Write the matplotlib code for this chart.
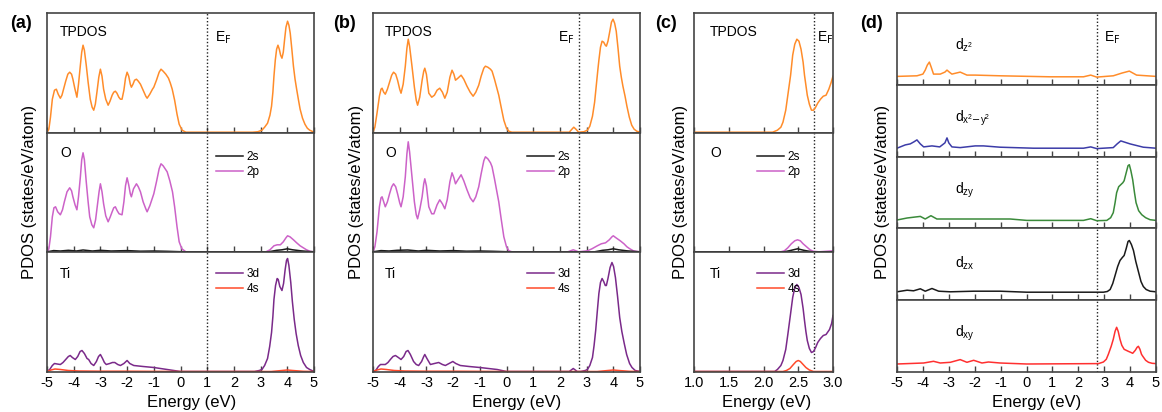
import matplotlib
matplotlib.use('Agg')
import matplotlib.pyplot as plt

plt.rcParams['font.family'] = ['Liberation Sans', 'DejaVu Sans']
plt.rcParams['mathtext.default'] = 'regular'
plt.rcParams['axes.unicode_minus'] = False

W, H = 1162, 412

# Fermi levels (eV)
ef_a = 1.0
ef_b = 2.73
ef_c = 2.73
ef_d = 2.73

# curves as (energy eV, PDOS in arbitrary units)
# ---------- panel (a) ----------
a_tot = [(-5.0, 0), (-4.93, 3), (-4.87, 15), (-4.8, 33), (-4.72, 42), (-4.65, 43), (-4.58, 38), (-4.5, 34),
         (-4.44, 37), (-4.38, 43), (-4.3, 51), (-4.22, 58), (-4.15, 60), (-4.08, 58), (-4.03, 53), (-3.96, 44),
         (-3.88, 35), (-3.82, 48), (-3.75, 67), (-3.7, 80), (-3.65, 87), (-3.6, 82), (-3.53, 67), (-3.46, 50),
         (-3.38, 33), (-3.31, 25), (-3.25, 22), (-3.19, 28), (-3.13, 40), (-3.06, 55), (-3.0, 63), (-2.94, 56),
         (-2.88, 43), (-2.8, 33), (-2.71, 27), (-2.64, 31), (-2.56, 37), (-2.5, 40), (-2.44, 41), (-2.38, 39),
         (-2.31, 35), (-2.25, 33), (-2.19, 33), (-2.12, 42), (-2.06, 54), (-2.0, 60), (-1.94, 56), (-1.88, 48),
         (-1.84, 45), (-1.78, 48), (-1.72, 52), (-1.65, 53), (-1.58, 51), (-1.5, 48), (-1.4, 42), (-1.3, 36),
         (-1.25, 34), (-1.15, 38), (-1.05, 43), (-1.0, 45), (-0.9, 52), (-0.8, 60), (-0.73, 63), (-0.65, 61),
         (-0.55, 58), (-0.45, 54), (-0.38, 49), (-0.31, 43), (-0.22, 32), (-0.13, 18), (-0.05, 8), (0.06, 2),
         (0.2, 0), (2.7, 0), (2.9, 0.5), (3.05, 2), (3.15, 5), (3.26, 9), (3.35, 17), (3.41, 26), (3.46, 40),
         (3.5, 56), (3.55, 72), (3.6, 83), (3.65, 87), (3.7, 83), (3.75, 77), (3.8, 74), (3.85, 80), (3.9, 93),
         (3.95, 105), (4.01, 111), (4.06, 107), (4.11, 99), (4.17, 83), (4.23, 66), (4.29, 53), (4.35, 43),
         (4.42, 32), (4.48, 23), (4.57, 14), (4.66, 8), (4.75, 4), (4.84, 2), (5.0, 0)]
a_o2p = [(-5.0, 0), (-4.93, 3), (-4.87, 15), (-4.8, 35), (-4.74, 44), (-4.68, 45), (-4.6, 40), (-4.5, 37),
         (-4.42, 42), (-4.35, 50), (-4.25, 60), (-4.15, 64), (-4.08, 61), (-4.03, 55), (-3.95, 47), (-3.88, 42),
         (-3.82, 55), (-3.75, 75), (-3.7, 92), (-3.65, 99), (-3.6, 92), (-3.53, 70), (-3.46, 50), (-3.4, 35),
         (-3.32, 27), (-3.25, 24), (-3.18, 32), (-3.12, 45), (-3.05, 60), (-3.0, 68), (-2.94, 60), (-2.88, 48),
         (-2.8, 36), (-2.71, 30), (-2.63, 35), (-2.56, 40), (-2.5, 44), (-2.44, 45), (-2.37, 41), (-2.3, 38),
         (-2.19, 37), (-2.12, 50), (-2.06, 66), (-2.0, 74), (-1.94, 67), (-1.88, 58), (-1.84, 55), (-1.76, 63),
         (-1.65, 68), (-1.58, 65), (-1.5, 60), (-1.4, 50), (-1.3, 43), (-1.25, 40), (-1.15, 46), (-1.05, 54),
         (-1.0, 58), (-0.9, 70), (-0.8, 83), (-0.73, 88), (-0.65, 86), (-0.5, 80), (-0.4, 71), (-0.3, 60),
         (-0.22, 45), (-0.13, 25), (-0.05, 10), (0.05, 3), (0.2, 0), (3.2, 0), (3.35, 2), (3.5, 6), (3.62, 7),
         (3.74, 7), (3.85, 10), (3.95, 14), (4.01, 16), (4.1, 15), (4.23, 12), (4.35, 9), (4.48, 6), (4.6, 4),
         (4.72, 2), (4.85, 0.5), (5.0, 0)]
a_o2s = [(-5.0, 0), (-4.75, 1.2), (-4.5, 0.8), (-4.2, 1.5), (-3.9, 0.8), (-3.65, 1.8), (-3.3, 0.8), (-3.0, 1.5),
         (-2.6, 0.8), (-2.0, 1.2), (-1.5, 0.6), (-1.0, 0.8), (-0.5, 0.5), (0.1, 0), (3.3, 0), (3.6, 1.5),
         (3.8, 2), (4.0, 3), (4.2, 2), (4.5, 1), (4.8, 0.3), (5.0, 0)]
a_ti3d = [(-5.0, 0), (-4.9, 2), (-4.8, 6), (-4.72, 8), (-4.62, 7.5), (-4.5, 7), (-4.4, 9), (-4.3, 12), (-4.2, 15),
          (-4.13, 16), (-4.05, 14), (-3.94, 12), (-3.85, 15), (-3.76, 20), (-3.69, 21), (-3.6, 18), (-3.5, 13),
          (-3.44, 12), (-3.35, 8), (-3.25, 6), (-3.15, 10), (-3.07, 15), (-3.0, 17), (-2.92, 13), (-2.85, 9),
          (-2.78, 7), (-2.65, 8), (-2.55, 9), (-2.46, 9), (-2.35, 7), (-2.25, 6), (-2.12, 8), (-2.0, 11),
          (-1.9, 8), (-1.75, 6), (-1.4, 5), (-1.0, 4), (-0.5, 2), (0.0, 0), (2.77, 0), (2.95, 1), (3.05, 2),
          (3.15, 6), (3.26, 13), (3.34, 25), (3.41, 39), (3.46, 55), (3.5, 72), (3.56, 86), (3.62, 93),
          (3.66, 92), (3.72, 85), (3.8, 81), (3.86, 88), (3.92, 102), (3.97, 111), (4.01, 113), (4.06, 106),
          (4.13, 89), (4.19, 70), (4.26, 52), (4.33, 38), (4.41, 26), (4.5, 16), (4.6, 9), (4.72, 4), (4.84, 2),
          (5.0, 0)]
a_ti4s = [(-5.0, 0), (-4.85, 1.5), (-4.7, 2.5), (-4.5, 2), (-4.2, 1), (-3.8, 0.5), (-3.0, 0.3), (-2.0, 0.3),
          (0.0, 0), (3.4, 0), (3.8, 1), (4.0, 1.5), (4.2, 1), (4.6, 0.2), (5.0, 0)]

# ---------- panel (b) ----------
b_tot = [(-5.0, 0), (-4.93, 5), (-4.85, 19), (-4.76, 36), (-4.7, 43), (-4.66, 44), (-4.6, 40), (-4.54, 38),
         (-4.46, 43), (-4.38, 50), (-4.3, 57), (-4.23, 60), (-4.15, 58), (-4.08, 52), (-4.0, 43), (-3.95, 39),
         (-3.87, 48), (-3.79, 66), (-3.73, 84), (-3.68, 93), (-3.63, 86), (-3.54, 66), (-3.45, 45), (-3.38, 32),
         (-3.33, 27), (-3.25, 35), (-3.16, 52), (-3.1, 61), (-3.06, 64), (-3.0, 58), (-2.91, 39), (-2.8, 35),
         (-2.7, 37), (-2.6, 42), (-2.5, 44), (-2.4, 40), (-2.31, 34), (-2.22, 40), (-2.12, 55), (-2.04, 62),
         (-1.97, 58), (-1.91, 52), (-1.82, 54), (-1.7, 57), (-1.6, 53), (-1.48, 46), (-1.36, 40), (-1.25, 36),
         (-1.15, 40), (-1.04, 47), (-0.95, 56), (-0.85, 64), (-0.79, 66), (-0.7, 65), (-0.6, 63), (-0.54, 61),
         (-0.45, 53), (-0.36, 44), (-0.29, 37), (-0.2, 25), (-0.1, 12), (0.0, 4), (0.09, 1), (0.2, 0), (2.35, 0),
         (2.45, 3), (2.52, 5), (2.6, 3), (2.7, 0), (2.9, 0.5), (3.03, 2), (3.12, 6), (3.22, 16), (3.3, 30),
         (3.36, 46), (3.42, 62), (3.46, 72), (3.52, 85), (3.58, 91), (3.64, 90), (3.7, 87), (3.74, 86),
         (3.8, 91), (3.87, 101), (3.93, 110), (3.99, 113), (4.05, 109), (4.11, 101), (4.18, 83), (4.24, 66),
         (4.3, 55), (4.36, 46), (4.44, 36), (4.51, 26), (4.6, 15), (4.69, 7), (4.78, 3), (4.88, 1), (5.0, 0)]
b_o2p = [(-5.0, 0), (-4.93, 5), (-4.85, 20), (-4.76, 45), (-4.7, 54), (-4.66, 55), (-4.6, 50), (-4.54, 45),
         (-4.46, 50), (-4.38, 58), (-4.3, 65), (-4.23, 68), (-4.15, 65), (-4.08, 58), (-4.0, 49), (-3.95, 45),
         (-3.87, 55), (-3.79, 75), (-3.73, 98), (-3.68, 110), (-3.63, 100), (-3.54, 75), (-3.45, 50), (-3.38, 37),
         (-3.33, 33), (-3.25, 42), (-3.16, 55), (-3.1, 68), (-3.06, 73), (-3.0, 66), (-2.91, 45), (-2.8, 38),
         (-2.72, 38), (-2.6, 47), (-2.5, 52), (-2.4, 48), (-2.31, 43), (-2.22, 52), (-2.12, 70), (-2.04, 79),
         (-1.97, 74), (-1.91, 68), (-1.82, 72), (-1.7, 77), (-1.6, 71), (-1.48, 62), (-1.36, 54), (-1.25, 50),
         (-1.15, 55), (-1.04, 65), (-0.95, 78), (-0.85, 91), (-0.79, 95), (-0.7, 93), (-0.6, 89), (-0.54, 85),
         (-0.45, 73), (-0.36, 60), (-0.29, 50), (-0.2, 33), (-0.1, 15), (0.0, 5), (0.09, 1), (0.2, 0), (2.3, 0),
         (2.5, 2), (2.7, 0), (3.03, 1), (3.2, 3), (3.4, 6), (3.55, 8), (3.71, 9), (3.85, 12), (3.95, 15),
         (4.0, 16), (4.1, 14), (4.26, 11), (4.4, 8), (4.51, 5), (4.62, 3), (4.75, 1), (4.9, 0.3), (5.0, 0)]
b_o2s = [(-5.0, 0), (-4.7, 1.2), (-4.4, 0.8), (-4.1, 1.5), (-3.7, 1.8), (-3.3, 0.8), (-3.0, 1.5), (-2.5, 0.8),
         (-2.0, 1.2), (-1.5, 0.6), (-1.0, 0.8), (-0.5, 0.5), (0.1, 0), (3.3, 0), (3.6, 1.5), (3.8, 2), (4.0, 3),
         (4.2, 2), (4.5, 1), (4.8, 0.3), (5.0, 0)]
b_ti3d = [(-5.0, 0), (-4.9, 1), (-4.8, 5), (-4.72, 7), (-4.62, 7), (-4.54, 7), (-4.44, 9), (-4.35, 12),
          (-4.25, 15), (-4.16, 16), (-4.05, 14), (-3.95, 12), (-3.85, 15), (-3.76, 20), (-3.69, 21), (-3.6, 17),
          (-3.48, 10), (-3.38, 7), (-3.29, 6), (-3.18, 10), (-3.1, 15), (-3.06, 17), (-2.98, 13), (-2.85, 7),
          (-2.7, 8), (-2.54, 9), (-2.4, 7), (-2.29, 6), (-2.15, 8), (-2.01, 10), (-1.9, 8), (-1.73, 6),
          (-1.4, 5), (-1.0, 4), (-0.35, 2), (0.0, 0), (2.35, 0), (2.5, 3), (2.65, 0), (2.78, 0), (2.95, 1),
          (3.03, 2), (3.12, 6), (3.22, 14), (3.28, 26), (3.34, 41), (3.4, 60), (3.46, 78), (3.52, 89),
          (3.58, 93), (3.64, 90), (3.7, 86), (3.74, 86), (3.8, 93), (3.88, 104), (3.95, 109), (4.01, 105),
          (4.08, 94), (4.16, 75), (4.24, 54), (4.32, 40), (4.41, 28), (4.5, 17), (4.61, 8), (4.7, 4), (4.82, 1),
          (5.0, 0)]
b_ti4s = [(-5.0, 0), (-4.85, 1.5), (-4.7, 2.5), (-4.5, 2), (-4.2, 1), (-3.8, 0.5), (-3.0, 0.3), (-2.0, 0.3),
          (0.0, 0), (3.4, 0), (3.8, 1), (4.0, 1.5), (4.2, 1), (4.6, 0.2), (5.0, 0)]

# ---------- panel (c) ----------
c_tot = [(1.0, 0), (2.13, 0), (2.2, 2), (2.25, 5), (2.28, 10), (2.32, 22), (2.35, 37), (2.39, 57), (2.42, 77),
         (2.45, 88), (2.48, 93), (2.51, 91), (2.54, 83), (2.57, 70), (2.59, 57), (2.61, 47), (2.63, 37),
         (2.66, 28), (2.69, 22), (2.72, 22), (2.75, 25), (2.78, 29), (2.82, 33), (2.86, 36), (2.9, 37),
         (2.94, 43), (2.97, 49), (3.0, 56)]
c_o2p = [(1.0, 0), (2.25, 0), (2.3, 1), (2.35, 4), (2.4, 8), (2.45, 11), (2.49, 12), (2.53, 11), (2.57, 8),
         (2.62, 5), (2.67, 2), (2.72, 0.5), (2.8, 0), (2.9, 0.5), (3.0, 1)]
c_o2s = [(1.0, 0), (2.3, 0), (2.4, 1.5), (2.49, 3), (2.58, 1.5), (2.7, 0), (3.0, 0)]
c_ti3d = [(1.0, 0), (2.16, 0), (2.2, 2), (2.25, 6), (2.28, 11), (2.32, 22), (2.35, 37), (2.39, 58), (2.42, 74),
          (2.45, 84), (2.48, 87), (2.51, 84), (2.54, 77), (2.57, 63), (2.59, 51), (2.61, 40), (2.63, 31),
          (2.66, 23), (2.69, 19), (2.72, 20), (2.75, 24), (2.78, 29), (2.82, 33), (2.86, 36), (2.9, 37),
          (2.95, 42), (2.98, 48), (3.0, 56)]
c_ti4s = [(1.0, 0), (2.28, 0), (2.33, 1), (2.38, 3), (2.43, 7), (2.47, 10), (2.5, 11), (2.53, 10), (2.57, 7),
          (2.61, 4), (2.66, 1.5), (2.72, 0), (3.0, 0)]

# ---------- panel (d): Ti 3d orbitals ----------
dz2 = [(-5.0, 0.7), (-4.23, 1.3), (-4.0, 3), (-3.91, 7), (-3.83, 12), (-3.75, 15), (-3.68, 10), (-3.59, 3),
       (-3.33, 3), (-3.15, 5), (-3.07, 7), (-2.98, 5), (-2.88, 3), (-2.56, 5), (-2.3, 2), (-1.98, 2), (-1.02, 1.3),
       (0.91, 0.3), (2.2, 0.3), (2.48, 2), (2.71, 0), (3.35, 1.3), (3.68, 4), (3.97, 6), (4.25, 2), (5.0, 0.7)]
dx2y2 = [(-5.0, 0.7), (-4.68, 4), (-4.49, 5), (-4.35, 7), (-4.23, 9), (-4.1, 5), (-3.97, 2), (-3.65, 3),
         (-3.35, 2), (-3.15, 6), (-3.07, 11), (-3.0, 6), (-2.88, 2), (-2.56, 1.3), (-1.98, 3), (-1.66, 3),
         (-1.02, 1.7), (0.27, 0.7), (2.2, 0.7), (2.48, 2), (2.71, 0.3), (3.35, 1.3), (3.5, 5), (3.64, 8),
         (4.0, 5), (4.51, 1.7), (5.0, 0.7)]
dzy = [(-5.0, 0.7), (-4.61, 2.7), (-4.1, 4.3), (-3.91, 1.7), (-3.69, 5), (-3.46, 1.7), (-2.94, 1.7),
       (-1.92, 1.7), (-0.63, 1.7), (0.01, 0.3), (2.2, 0.3), (2.48, 2), (2.71, 0), (3.1, 0.3), (3.25, 3),
       (3.35, 8), (3.42, 18), (3.48, 28), (3.56, 34), (3.64, 36), (3.72, 38), (3.77, 40), (3.85, 48), (3.92, 55),
       (3.97, 56), (4.03, 50), (4.1, 41), (4.17, 28), (4.23, 18), (4.33, 10), (4.45, 6), (4.6, 3), (4.77, 1),
       (5.0, 0.3)]
dzx = [(-5.0, 0.7), (-4.61, 2.3), (-4.36, 1.7), (-4.1, 3.7), (-3.91, 1.3), (-3.65, 4), (-3.39, 1.3),
       (-2.94, 0.7), (-2.04, 1.3), (-1.02, 1.3), (0.01, 0.3), (2.97, 0.3), (3.12, 1), (3.23, 3), (3.33, 9),
       (3.42, 17), (3.52, 26), (3.61, 32), (3.7, 35), (3.77, 37), (3.85, 44), (3.92, 51), (3.97, 52), (4.05, 48),
       (4.13, 42), (4.22, 31), (4.32, 21), (4.42, 11), (4.51, 6), (4.62, 3), (4.77, 1.3), (5.0, 0.7)]
dxy = [(-5.0, 0.3), (-3.97, 1.3), (-3.59, 3), (-3.33, 1.3), (-2.94, 2), (-2.56, 4.7), (-2.3, 2), (-2.04, 4),
       (-1.72, 1.3), (-1.47, 2.3), (-1.02, 1.3), (0.01, 0.3), (2.78, 0.7), (2.97, 2.3), (3.08, 5), (3.16, 10),
       (3.27, 18), (3.35, 25), (3.42, 33), (3.48, 37), (3.54, 33), (3.61, 25), (3.68, 19), (3.77, 15), (3.85, 14),
       (3.93, 13), (4.02, 12), (4.1, 11), (4.2, 14), (4.27, 17), (4.32, 18), (4.38, 15), (4.44, 10), (4.49, 8),
       (4.6, 4), (4.71, 2), (4.85, 1), (5.0, 0.7)]

d_labels = [r'd$_{z^2}$', r'd$_{x^2\mathsf{-}y^2}$', r'd$_{zy}$', r'd$_{zx}$', r'd$_{xy}$']

C_TOT = '#ff8c2a'
C_2S = '#1a1a1a'
C_2P = '#cc62c8'
C_3D = '#7a2a8a'
C_4S = '#ff4a2a'
d_colors = ['#ff8c2a', '#3c3ca8', '#3a8a3a', '#1a1a1a', '#ff3030']
SP = '#444444'

fig = plt.figure(figsize=(W / 100, H / 100), dpi=100)


def px_axes(x0, y0, x1, y1):
    return fig.add_axes([x0 / W, 1 - y1 / H, (x1 - x0) / W, (y1 - y0) / H])


def style(ax, xlim, xticks, ylim, bottom):
    ax.set_xlim(xlim)
    ax.set_ylim(ylim)
    ax.set_yticks([])
    ax.set_xticks(xticks)
    ax.tick_params(axis='x', direction='in', length=4, width=1, color=SP,
                   labelsize=10.5, pad=3, labelbottom=bottom)
    for s in ax.spines.values():
        s.set_color(SP)
        s.set_linewidth(1.2)


def curve(ax, pts, color, label=None, z=2):
    e, v = zip(*pts)
    ax.plot(e, v, color=color, lw=1.1, label=label, zorder=z, solid_joinstyle='round')


def legend(ax, x, y):
    ax.legend(loc='upper left', bbox_to_anchor=(x / W, 1 - y / H), bbox_transform=fig.transFigure,
              frameon=False, fontsize=8.5, handlelength=2.3, handletextpad=0.3, labelspacing=0.25,
              borderpad=0, borderaxespad=0)


def three_rows(x0, x1, xlim, xticks, ef, data, txt, leg_x, ef_x, ef_right):
    tops = [13, 132.7, 252.3]
    bots = [132.7, 252.3, 372]
    axs = []
    for i in range(3):
        ax = px_axes(x0, tops[i], x1, bots[i])
        style(ax, xlim, xticks, (-0.5, bots[i] - tops[i] - 0.5), i == 2)
        ax.axvline(ef, color='#222222', ls=(0, (1, 1.5)), lw=1)
        axs.append(ax)
    tot, o2s, o2p, t3d, t4s = data
    curve(axs[0], tot, C_TOT)
    curve(axs[1], o2s, C_2S, '2s', 3)
    curve(axs[1], o2p, C_2P, '2p')
    curve(axs[2], t3d, C_3D, '3d')
    curve(axs[2], t4s, C_4S, '4s')
    for name, ty in zip(['TPDOS', 'O', 'Ti'], [32, 153, 274]):
        fig.text(txt / W, 1 - ty / H, name, fontsize=10, ha='left', va='center')
    legend(axs[1], leg_x, 151)
    legend(axs[2], leg_x, 268)
    fig.text(ef_x / W, 1 - 38 / H, r'E$_\mathsf{F}$', fontsize=10,
             ha='left' if ef_right else 'right', va='center')
    return axs


three_rows(47, 314, (-5, 5), range(-5, 6), ef_a, [a_tot, a_o2s, a_o2p, a_ti3d, a_ti4s],
           60, 216, 215, True)
three_rows(373, 640, (-5, 5), range(-5, 6), ef_b, [b_tot, b_o2s, b_o2p, b_ti3d, b_ti4s],
           385, 527, 574, False)
three_rows(694, 833, (1.0, 3.0), [1.0, 1.5, 2.0, 2.5, 3.0], ef_c, [c_tot, c_o2s, c_o2p, c_ti3d, c_ti4s],
           710, 757, 817, True)

# panel (d): five stacked rows
d_series = [dz2, dx2y2, dzy, dzx, dxy]
row_h = (372 - 13) / 5
d_label_y = [45, 118, 190, 263, 333]
for i in range(5):
    y0 = 13 + i * row_h
    ax = px_axes(897, y0, 1156, y0 + row_h)
    style(ax, (-5, 5), range(-5, 6), (-7.7, row_h - 7.7), i == 4)
    ax.axvline(ef_d, color='#222222', ls=(0, (1, 1.5)), lw=1)
    curve(ax, d_series[i], d_colors[i])
    fig.text(955 / W, 1 - d_label_y[i] / H, d_labels[i], fontsize=10, ha='left', va='center')
fig.text(1104 / W, 1 - 38 / H, r'E$_\mathsf{F}$', fontsize=10, ha='left', va='center')

# panel letters, axis titles
for lab, x in zip(['(a)', '(b)', '(c)', '(d)'], [10, 333, 655, 860]):
    fig.text(x / W, 1 - 24 / H, lab, fontsize=13, fontweight='bold', ha='left', va='center')
for x in [30, 357, 681, 883]:
    fig.text(x / W, 1 - 192 / H, 'PDOS (states/eV/atom)', fontsize=12, rotation=90,
             ha='center', va='center')
for x in [192, 517, 767, 1037]:
    fig.text(x / W, 1 - 402 / H, 'Energy (eV)', fontsize=12, ha='center', va='center')

fig.savefig('out.png', dpi=100, facecolor='white')
